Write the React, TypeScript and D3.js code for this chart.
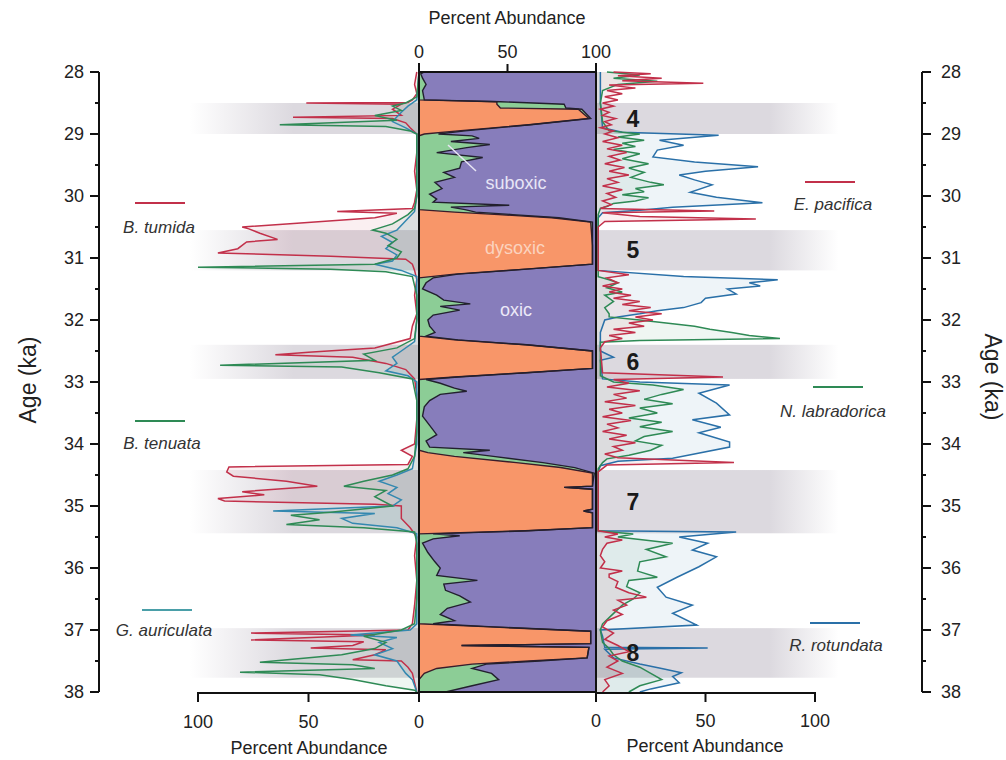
import React from "react";
import * as d3 from "d3";

type Pt = [number, number]; // [age ka, percent]

const ageTicks = [28, 29, 30, 31, 32, 33, 34, 35, 36, 37, 38];
const minorTicks = [28.5, 29.5, 30.5, 31.5, 32.5, 33.5, 34.5, 35.5, 36.5, 37.5];
const pctTicks = [0, 50, 100];

// dysoxic events (gray bands)
const eventBands = [
  { label: "4", from: 28.5, to: 29.0 },
  { label: "5", from: 30.55, to: 31.2 },
  { label: "6", from: 32.4, to: 32.95 },
  { label: "7", from: 34.42, to: 35.44 },
  { label: "8", from: 36.97, to: 37.77 },
];

// left panel species
const bTumida: Pt[] = [
  [28.0, 1], [28.2, 2], [28.35, 1], [28.45, 3], [28.49, 5], [28.5, 51], [28.52, 8], [28.6, 12], [28.7, 8],
  [28.73, 57], [28.75, 12], [28.82, 6], [28.9, 4], [29.0, 1], [29.3, 1], [29.6, 2], [29.9, 1], [30.1, 2],
  [30.2, 3], [30.25, 37], [30.28, 10], [30.35, 20], [30.45, 60], [30.5, 80], [30.53, 77], [30.6, 72],
  [30.7, 64], [30.74, 78], [30.85, 82], [30.92, 91], [30.97, 40], [31.02, 6], [31.1, 3], [31.2, 2],
  [31.35, 1], [31.6, 2], [31.9, 1], [32.1, 3], [32.3, 4], [32.45, 20], [32.52, 50], [32.56, 65], [32.6, 30],
  [32.7, 15], [32.8, 6], [32.95, 2], [33.2, 1], [33.6, 1], [34.0, 2], [34.1, 8], [34.2, 3], [34.33, 5],
  [34.37, 86], [34.45, 87], [34.52, 84], [34.6, 60], [34.68, 46], [34.72, 62], [34.77, 80], [34.82, 70],
  [34.88, 91], [34.92, 88], [34.97, 20], [35.0, 8], [35.2, 8], [35.35, 4], [35.5, 1], [35.8, 2], [36.2, 1],
  [36.6, 2], [36.9, 3], [37.0, 5], [37.05, 76], [37.08, 20], [37.16, 76], [37.19, 25], [37.25, 30],
  [37.29, 49], [37.32, 15], [37.4, 20], [37.48, 30], [37.5, 8], [37.6, 5], [37.7, 3], [37.85, 2], [38.0, 1],
];

const bTenuata: Pt[] = [
  [28.0, 0], [28.4, 1], [28.5, 6], [28.55, 12], [28.62, 8], [28.7, 20], [28.78, 10], [28.85, 63], [28.88, 15],
  [28.95, 4], [29.0, 1], [29.5, 1], [30.0, 1], [30.2, 2], [30.3, 5], [30.45, 12], [30.55, 21], [30.6, 15],
  [30.7, 10], [30.8, 14], [30.9, 8], [31.0, 10], [31.1, 20], [31.15, 100], [31.18, 40], [31.22, 15],
  [31.3, 3], [31.6, 1], [32.0, 1], [32.3, 2], [32.45, 10], [32.55, 25], [32.65, 20], [32.73, 90], [32.76, 35],
  [32.85, 18], [32.95, 3], [33.3, 1], [33.8, 1], [34.2, 2], [34.4, 5], [34.5, 12], [34.6, 25], [34.68, 34],
  [34.75, 15], [34.85, 20], [35.0, 12], [35.1, 40], [35.15, 58], [35.22, 45], [35.3, 60], [35.35, 25],
  [35.42, 2], [35.6, 1], [36.0, 1], [36.5, 1], [36.9, 2], [37.0, 8], [37.1, 25], [37.2, 15], [37.3, 20],
  [37.4, 35], [37.52, 72], [37.56, 30], [37.62, 20], [37.68, 81], [37.72, 45], [37.8, 30], [37.9, 15],
  [37.97, 2], [38.0, 1],
];

const gAuriculata: Pt[] = [
  [28.0, 0], [28.45, 1], [28.55, 5], [28.65, 8], [28.8, 12], [28.9, 6], [29.0, 1], [30.0, 1], [30.25, 2],
  [30.4, 6], [30.55, 10], [30.65, 17], [30.75, 12], [30.85, 15], [30.95, 10], [31.05, 12], [31.1, 20],
  [31.2, 8], [31.3, 1], [32.0, 1], [32.35, 2], [32.5, 8], [32.6, 12], [32.7, 10], [32.82, 15], [32.9, 5],
  [33.0, 1], [34.0, 1], [34.4, 3], [34.5, 10], [34.6, 18], [34.7, 10], [34.8, 14], [34.9, 8], [35.0, 12],
  [35.08, 66], [35.12, 20], [35.2, 35], [35.28, 30], [35.35, 10], [35.45, 1], [36.9, 1], [37.0, 4],
  [37.08, 31], [37.12, 10], [37.2, 18], [37.3, 12], [37.4, 20], [37.5, 10], [37.6, 8], [37.7, 6],
  [37.8, 3], [38.0, 1],
];

// right panel species
const ePacifica: Pt[] = [
  [28.0, 8], [28.03, 25], [28.06, 10], [28.1, 30], [28.14, 12], [28.18, 49], [28.21, 6], [28.26, 18],
  [28.3, 5], [28.35, 12], [28.4, 4], [28.45, 10], [28.5, 3], [28.55, 8], [28.6, 2], [28.65, 6], [28.7, 3],
  [28.75, 9], [28.8, 4], [28.85, 7], [28.9, 2], [28.95, 8], [29.0, 4], [29.06, 10], [29.12, 3], [29.18, 12],
  [29.24, 5], [29.3, 14], [29.36, 6], [29.42, 11], [29.48, 4], [29.54, 13], [29.6, 6], [29.66, 15],
  [29.72, 5], [29.78, 10], [29.84, 3], [29.9, 12], [29.96, 5], [30.02, 9], [30.08, 3], [30.14, 7],
  [30.2, 2], [30.24, 54], [30.27, 3], [30.33, 20], [30.37, 73], [30.41, 4], [30.5, 1], [31.2, 1],
  [31.27, 15], [31.32, 5], [31.4, 10], [31.45, 3], [31.5, 12], [31.55, 6], [31.6, 16], [31.65, 8],
  [31.7, 20], [31.75, 12], [31.8, 25], [31.85, 15], [31.9, 30], [31.95, 18], [32.0, 26], [32.05, 15],
  [32.1, 22], [32.15, 8], [32.2, 18], [32.25, 6], [32.3, 12], [32.35, 4], [32.45, 2], [32.85, 3],
  [32.92, 58], [32.96, 8], [33.02, 15], [33.08, 5], [33.14, 20], [33.2, 8], [33.26, 14], [33.32, 4],
  [33.38, 18], [33.44, 6], [33.5, 12], [33.56, 3], [33.62, 16], [33.68, 5], [33.74, 10], [33.8, 3],
  [33.86, 14], [33.92, 6], [33.98, 18], [34.04, 8], [34.1, 12], [34.16, 4], [34.22, 10], [34.3, 63],
  [34.34, 5], [34.45, 1], [35.4, 1], [35.45, 10], [35.5, 4], [35.55, 12], [35.6, 5], [35.7, 3], [35.8, 2],
  [35.9, 4], [36.0, 2], [36.05, 12], [36.1, 6], [36.15, 6], [36.22, 10], [36.31, 9], [36.4, 15],
  [36.47, 23], [36.52, 10], [36.6, 14], [36.68, 8], [36.75, 12], [36.85, 5], [36.95, 3], [37.05, 8],
  [37.15, 4], [37.25, 10], [37.35, 15], [37.42, 6], [37.5, 10], [37.6, 5], [37.7, 12], [37.8, 4],
  [37.9, 6], [38.0, 3],
];

const nLabradorica: Pt[] = [
  [28.0, 5], [28.05, 20], [28.1, 8], [28.15, 28], [28.2, 10], [28.3, 3], [28.5, 2], [28.8, 3], [28.95, 6],
  [29.0, 20], [29.05, 10], [29.1, 22], [29.15, 12], [29.2, 18], [29.25, 8], [29.32, 20], [29.4, 12],
  [29.48, 24], [29.55, 15], [29.62, 22], [29.7, 16], [29.78, 25], [29.82, 31], [29.88, 18], [29.93, 22],
  [29.98, 12], [30.03, 24], [30.08, 18], [30.12, 8], [30.17, 5], [30.2, 2], [30.3, 1], [31.3, 1],
  [31.35, 6], [31.4, 10], [31.48, 5], [31.55, 12], [31.6, 4], [31.7, 8], [31.8, 4], [31.9, 6], [31.95, 6],
  [32.0, 20], [32.05, 32], [32.1, 45], [32.15, 52], [32.2, 62], [32.25, 70], [32.3, 84], [32.33, 20],
  [32.36, 2], [32.9, 2], [33.0, 8], [33.05, 26], [33.12, 40], [33.2, 30], [33.28, 22], [33.35, 35],
  [33.42, 20], [33.5, 28], [33.58, 15], [33.65, 30], [33.72, 20], [33.8, 35], [33.88, 22], [33.95, 18],
  [34.02, 30], [34.1, 25], [34.18, 15], [34.24, 5], [34.3, 3], [34.4, 1], [35.4, 1], [35.45, 17],
  [35.5, 10], [35.6, 35], [35.7, 23], [35.82, 32], [35.9, 20], [36.05, 19], [36.15, 28], [36.2, 15],
  [36.3, 14], [36.4, 20], [36.5, 17], [36.6, 12], [36.7, 9], [36.8, 6], [36.9, 3], [37.0, 2], [37.2, 3],
  [37.3, 6], [37.4, 8], [37.5, 12], [37.6, 20], [37.7, 25], [37.8, 30], [37.9, 20], [38.0, 15],
];

const rRotundata: Pt[] = [
  [28.0, 2], [28.5, 2], [28.9, 3], [28.97, 12], [29.02, 56], [29.1, 29], [29.18, 40], [29.26, 28],
  [29.37, 26], [29.45, 45], [29.53, 74], [29.6, 50], [29.66, 38], [29.74, 45], [29.82, 53], [29.94, 43],
  [30.02, 55], [30.11, 76], [30.18, 35], [30.23, 20], [30.27, 3], [30.35, 1], [31.2, 1], [31.3, 40],
  [31.35, 83], [31.4, 70], [31.45, 75], [31.5, 60], [31.58, 64], [31.65, 50], [31.72, 48], [31.8, 40],
  [31.85, 28], [31.9, 20], [31.95, 10], [32.0, 4], [32.2, 2], [32.5, 2], [32.6, 8], [32.65, 2], [32.95, 3],
  [33.0, 20], [33.05, 61], [33.18, 47], [33.34, 55], [33.53, 61], [33.61, 44], [33.73, 57], [33.82, 47],
  [33.97, 61], [34.05, 61], [34.18, 42], [34.23, 35], [34.28, 10], [34.35, 2], [34.45, 1], [35.4, 1],
  [35.42, 64], [35.5, 38], [35.6, 51], [35.71, 44], [35.82, 55], [35.98, 47], [36.15, 37], [36.31, 28],
  [36.47, 32], [36.6, 44], [36.73, 35], [36.92, 46], [37.0, 2], [37.1, 3], [37.28, 4], [37.29, 51],
  [37.31, 4], [37.45, 8], [37.55, 20], [37.62, 30], [37.69, 39], [37.75, 35], [37.85, 38], [37.95, 25],
  [38.0, 20],
];

// centre panel: redox facies (percent), oxic = remainder
const centerAges = [
  28.0, 28.03, 28.1, 28.2, 28.3, 28.45, 28.48, 28.52, 28.58, 28.6, 28.75, 28.85, 28.95, 29.0, 29.03, 29.07,
  29.12, 29.17, 29.22, 29.3, 29.38, 29.45, 29.55, 29.62, 29.7, 29.78, 29.88, 29.97, 30.05, 30.1, 30.15,
  30.18, 30.22, 30.26, 30.3, 30.35, 30.42, 30.8, 31.1, 31.18, 31.26, 31.32, 31.4, 31.5, 31.6, 31.68,
  31.74, 31.78, 31.84, 31.92, 32.0, 32.1, 32.2, 32.26, 32.32, 32.4, 32.5, 32.78, 32.85, 32.92, 32.96,
  33.02, 33.1, 33.15, 33.2, 33.3, 33.4, 33.55, 33.7, 33.85, 33.95, 34.05, 34.1, 34.14, 34.2, 34.3, 34.38,
  34.47, 34.68, 34.7, 34.73, 35.05, 35.08, 35.11, 35.35, 35.4, 35.45, 35.48, 35.53, 35.6, 35.75, 35.9,
  36.0, 36.12, 36.2, 36.26, 36.36, 36.45, 36.55, 36.65, 36.75, 36.85, 36.9, 36.95, 37.02, 37.22, 37.25,
  37.28, 37.45, 37.5, 37.55, 37.62, 37.7, 37.8, 37.9, 38.0,
];
const dysoxic = [
  0, 0, 0, 0, 0, 0, 44, 44, 46, 90, 96, 62, 22, 3, 0, 0,
  0, 0, 0, 0, 0, 0, 0, 0, 0, 0, 0, 0, 0, 0, 0,
  0, 0, 20, 45, 75, 97, 98, 98, 60, 20, 0, 0, 0, 0, 0,
  0, 0, 0, 0, 0, 0, 0, 0, 20, 60, 98, 98, 60, 20, 0,
  0, 0, 0, 0, 0, 0, 0, 0, 0, 0, 0, 0, 5, 20, 55, 80,
  98, 98, 82, 98, 98, 93, 98, 98, 60, 0, 0, 0, 0, 0, 0,
  0, 0, 0, 0, 0, 0, 0, 0, 0, 0, 0, 40, 97, 97, 24,
  96, 95, 62, 30, 10, 3, 0, 0, 0,
];
const suboxic = [
  3, 1, 2, 4, 2, 3, 2, 38, 37, 2, 1, 1, 4, 8, 30, 34,
  18, 40, 27, 10, 36, 24, 23, 14, 20, 9, 13, 6, 10, 8, 51,
  18, 26, 12, 8, 4, 1, 0, 0, 1, 2, 8, 4, 2, 10, 14,
  29, 12, 23, 8, 5, 6, 9, 4, 2, 1, 0, 0, 1, 2, 4,
  12, 20, 27, 12, 6, 3, 2, 6, 10, 4, 6, 40, 20, 22, 15, 8,
  1, 0, 0, 0, 0, 0, 0, 0, 2, 8, 23, 8, 2, 5, 9,
  12, 10, 33, 14, 15, 23, 29, 16, 12, 20, 8, 2, 0, 0, 0,
  0, 0, 6, 8, 20, 38, 45, 30, 15,
];

const RED = "#c2304a";
const GREEN = "#2e8a55";
const BLUE_L = "#3388b0";
const BLUE_R = "#2a70a8";
const FONT = "Liberation Sans, Arial, sans-serif";

const y = d3.scaleLinear().domain([28, 38]).range([72, 692]);
const xL = d3.scaleLinear().domain([0, 100]).range([419, 198]);
const xC = d3.scaleLinear().domain([0, 100]).range([419, 596]);
const xR = d3.scaleLinear().domain([0, 100]).range([596, 815]);

const App: React.FC = () => {
  const leftSeries = [
    { data: bTumida, color: RED },
    { data: gAuriculata, color: BLUE_L },
    { data: bTenuata, color: GREEN },
  ];
  const rightSeries = [
    { data: rRotundata, color: BLUE_R },
    { data: nLabradorica, color: GREEN },
    { data: ePacifica, color: RED },
  ];

  const lineOf = (sx: d3.ScaleLinear<number, number>) =>
    d3.line<Pt>().x((d) => sx(d[1])).y((d) => y(d[0]));
  const areaOf = (sx: d3.ScaleLinear<number, number>) =>
    d3.area<Pt>().x0(sx(0)).x1((d) => sx(d[1])).y((d) => y(d[0]));

  const idx = centerAges.map((_, i) => i);
  const dysArea = d3
    .area<number>()
    .y((i) => y(centerAges[i]))
    .x0(xC(0))
    .x1((i) => xC(dysoxic[i]));
  const subArea = d3
    .area<number>()
    .y((i) => y(centerAges[i]))
    .x0((i) => xC(dysoxic[i]))
    .x1((i) => xC(dysoxic[i] + suboxic[i]));
  const dysLine = d3.line<number>().x((i) => xC(dysoxic[i])).y((i) => y(centerAges[i]));
  const subLine = d3
    .line<number>()
    .x((i) => xC(dysoxic[i] + suboxic[i]))
    .y((i) => y(centerAges[i]));

  const legends = [
    { name: "B. tumida", color: RED, lx: 135, ly: 203, tx: 159, ty: 227 },
    { name: "B. tenuata", color: GREEN, lx: 135, ly: 421, tx: 162, ty: 443 },
    { name: "G. auriculata", color: "#4a9fa8", lx: 142, ly: 610, tx: 164, ty: 630 },
    { name: "E. pacifica", color: RED, lx: 805, ly: 182, tx: 833, ty: 204 },
    { name: "N. labradorica", color: GREEN, lx: 813, ly: 387, tx: 833, ty: 411 },
    { name: "R. rotundata", color: BLUE_R, lx: 810, ly: 623, tx: 836, ty: 645 },
  ];

  return (
    <svg
      width={1006}
      height={760}
      style={{ position: "absolute", left: 0, top: 0, background: "#fff" }}
      fontFamily={FONT}
    >
      <defs>
        <linearGradient id="bandGrad" gradientUnits="userSpaceOnUse" x1={190} x2={880} y1={0} y2={0}>
          <stop offset={0} stopColor="#dcd9df" stopOpacity={0} />
          <stop offset={0.15} stopColor="#dcd9df" stopOpacity={1} />
          <stop offset={0.84} stopColor="#dcd9df" stopOpacity={1} />
          <stop offset={0.94} stopColor="#dcd9df" stopOpacity={0} />
        </linearGradient>
        <clipPath id="centerClip">
          <rect x={xC(0)} y={y(28)} width={xC(100) - xC(0)} height={y(38) - y(28)} />
        </clipPath>
      </defs>

      {/* event bands */}
      {eventBands.map((b) => (
        <rect key={b.label} x={190} width={690} y={y(b.from)} height={y(b.to) - y(b.from)} fill="url(#bandGrad)" />
      ))}

      {/* centre redox panel */}
      <g clipPath="url(#centerClip)">
        <rect x={xC(0)} y={y(28)} width={xC(100) - xC(0)} height={y(38) - y(28)} fill="#877dbb" />
        <path d={dysArea(idx) || ""} fill="#f89669" />
        <path d={subArea(idx) || ""} fill="#8ccd96" />
        <path d={dysLine(idx) || ""} fill="none" stroke="#3a1c2a" strokeWidth={1.4} />
        <path d={subLine(idx) || ""} fill="none" stroke="#22202e" strokeWidth={1.4} />
      </g>
      <line x1={448} y1={145} x2={476} y2={171} stroke="#e8e6f4" strokeWidth={1.5} />
      <text x={516} y={183} textAnchor="middle" dominantBaseline="central" fontSize={18} fill="#e8e5f6">suboxic</text>
      <text x={515} y={248} textAnchor="middle" dominantBaseline="central" fontSize={18} fill="#fbd3bf">dysoxic</text>
      <text x={516} y={310} textAnchor="middle" dominantBaseline="central" fontSize={18} fill="#ece9f8">oxic</text>

      {/* species fills and lines */}
      {leftSeries.map((s, i) => (
        <path key={"la" + i} d={areaOf(xL)(s.data) || ""} fill={s.color} fillOpacity={0.08} />
      ))}
      {rightSeries.map((s, i) => (
        <path key={"ra" + i} d={areaOf(xR)(s.data) || ""} fill={s.color} fillOpacity={0.08} />
      ))}
      {leftSeries.map((s, i) => (
        <path key={"ll" + i} d={lineOf(xL)(s.data) || ""} fill="none" stroke={s.color} strokeWidth={1.5} />
      ))}
      {rightSeries.map((s, i) => (
        <path key={"rl" + i} d={lineOf(xR)(s.data) || ""} fill="none" stroke={s.color} strokeWidth={1.5} />
      ))}

      {/* event numbers */}
      {eventBands.map((b) => (
        <text
          key={"n" + b.label}
          x={633}
          y={(y(b.from) + y(b.to)) / 2}
          textAnchor="middle"
          dominantBaseline="central"
          fontSize={23}
          fontWeight="bold"
          fill="#1a1a1a"
        >
          {b.label}
        </text>
      ))}

      {/* centre panel frame + top axis */}
      <g stroke="#111" strokeWidth={2} fill="none">
        <line x1={xC(0)} y1={y(28)} x2={xC(100)} y2={y(28)} />
        <line x1={xC(0)} y1={y(38)} x2={xC(100)} y2={y(38)} />
        <line x1={xC(0)} y1={63} x2={xC(0)} y2={702} />
        <line x1={xC(100)} y1={63} x2={xC(100)} y2={702} />
        {pctTicks.map((t) => (
          <line key={"ct" + t} x1={xC(t)} y1={y(28)} x2={xC(t)} y2={64} />
        ))}
        {/* bottom axes */}
        <line x1={xL(100)} y1={y(38) + 1} x2={xL(0)} y2={y(38) + 1} />
        <line x1={xR(0)} y1={y(38) + 1} x2={xR(100)} y2={y(38) + 1} />
        {pctTicks.map((t) => (
          <line key={"lt" + t} x1={xL(t)} y1={y(38)} x2={xL(t)} y2={702} />
        ))}
        {pctTicks.map((t) => (
          <line key={"rt" + t} x1={xR(t)} y1={y(38)} x2={xR(t)} y2={702} />
        ))}
        {/* age axes */}
        <line x1={99} y1={y(28)} x2={99} y2={y(38)} />
        <line x1={922} y1={y(28)} x2={922} y2={y(38)} />
        {ageTicks.map((t) => (
          <g key={"at" + t}>
            <line x1={90} y1={y(t)} x2={99} y2={y(t)} />
            <line x1={922} y1={y(t)} x2={931} y2={y(t)} />
          </g>
        ))}
        {minorTicks.map((t) => (
          <g key={"mt" + t}>
            <line x1={95} y1={y(t)} x2={99} y2={y(t)} />
            <line x1={922} y1={y(t)} x2={926} y2={y(t)} />
          </g>
        ))}
      </g>

      {/* tick labels */}
      <g fontSize={18} fill="#222">
        {ageTicks.map((t) => (
          <text key={"al" + t} x={84} y={y(t)} textAnchor="end" dominantBaseline="central">{t}</text>
        ))}
        {ageTicks.map((t) => (
          <text key={"ar" + t} x={941} y={y(t)} textAnchor="start" dominantBaseline="central">{t}</text>
        ))}
        {pctTicks.map((t) => (
          <text key={"tl" + t} x={xC(t)} y={52} textAnchor="middle" dominantBaseline="central">{t}</text>
        ))}
        {pctTicks.map((t) => (
          <text key={"bl" + t} x={xL(t)} y={722} textAnchor="middle" dominantBaseline="central">{t}</text>
        ))}
        {pctTicks.map((t) => (
          <text key={"br" + t} x={xR(t)} y={721} textAnchor="middle" dominantBaseline="central">{t}</text>
        ))}
        <text x={507} y={18} textAnchor="middle" dominantBaseline="central">Percent Abundance</text>
        <text x={309} y={748} textAnchor="middle" dominantBaseline="central">Percent Abundance</text>
        <text x={705} y={746} textAnchor="middle" dominantBaseline="central">Percent Abundance</text>
      </g>
      <text
        transform="translate(28,380) rotate(-90)"
        textAnchor="middle"
        dominantBaseline="central"
        fontSize={23}
        fill="#222"
      >
        Age (ka)
      </text>
      <text
        transform="translate(993,377) rotate(90)"
        textAnchor="middle"
        dominantBaseline="central"
        fontSize={23}
        fill="#222"
      >
        Age (ka)
      </text>

      {/* legends */}
      {legends.map((l) => (
        <g key={l.name}>
          <line x1={l.lx} x2={l.lx + 50} y1={l.ly} y2={l.ly} stroke={l.color} strokeWidth={2} />
          <text
            x={l.tx}
            y={l.ty}
            textAnchor="middle"
            dominantBaseline="central"
            fontSize={17}
            fontStyle="italic"
            fill="#333"
          >
            {l.name}
          </text>
        </g>
      ))}
    </svg>
  );
};

export default App;
